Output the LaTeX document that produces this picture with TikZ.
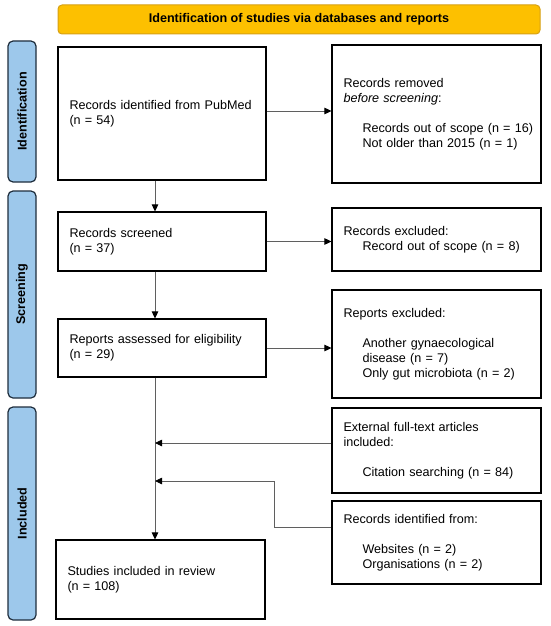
\documentclass[tikz,border=0pt]{standalone}
\usepackage{fontspec}
\setmainfont{Liberation Sans}
\usetikzlibrary{arrows.meta,calc}
\definecolor{hdrfill}{RGB}{253,192,0}
\definecolor{hdrdraw}{RGB}{214,160,20}
\definecolor{barfill}{RGB}{157,200,235}
\definecolor{bardraw}{RGB}{30,45,60}
\definecolor{conncol}{RGB}{95,95,95}
\tikzset{
  txt/.style={font=\fontsize{12.6}{15}\selectfont},
  box/.style={txt, draw=black, line width=1.1pt, fill=white, align=left,
    inner xsep=11.5pt, inner ysep=0pt, anchor=center},
  hdr/.style={draw=hdrdraw, fill=hdrfill, line width=1pt, rounded corners=4pt,
    minimum width=482pt, minimum height=29pt, inner sep=0pt,
    font=\fontsize{12.6}{15}\selectfont\bfseries},
  bar/.style={draw=bardraw, fill=barfill, line width=1.2pt, rounded corners=5pt,
    minimum width=28pt, inner sep=0pt},
  barlab/.style={rotate=90, font=\fontsize{12.6}{15}\selectfont\bfseries},
  conn/.style={draw=conncol, line width=0.8pt,
    -{Triangle[length=7pt,width=6.5pt,color=black]}}
}
\begin{document}
\begin{tikzpicture}[x=1pt,y=-1pt]
\useasboundingbox (0,0) rectangle (550,626);
% header
\node[hdr] (hdr) at (299,19.5) {Identification of studies via databases and reports};
% side bars
\node[bar, minimum height=141pt] (bid) at (22,111.5) {};
\node[barlab] (lid) at (bid) {Identification};
\node[bar, minimum height=207pt] (bsc) at (22,294.5) {};
\node[barlab] (lsc) at (bsc) {Screening};
\node[bar, minimum height=213pt] (bin) at (22,513.5) {};
\node[barlab] (lin) at (bin) {Included};
% left column
\node[box, text width=185pt, minimum height=133pt] (A) at (162,113.5)
  {Records identified from PubMed\\(n = 54)};
\node[box, text width=185pt, minimum height=59pt] (C) at (162,241.5)
  {Records screened\\(n = 37)};
\node[box, text width=185pt, minimum height=58pt] (E) at (162,348)
  {Reports assessed for eligibility\\(n = 29)};
\node[box, text width=186pt, minimum height=79pt] (G) at (160.5,579.5)
  {Studies included in review\\(n = 108)};
% right column
\node[box, text width=186pt, minimum height=138pt] (B) at (436.5,114)
  {Records removed\\\textit{before screening}:\\[15pt]
   \hspace*{19pt}\mbox{Records out of scope (n = 16)}\\
   \hspace*{19pt}\mbox{Not older than 2015 (n = 1)}\\[10pt]};
\node[box, text width=186pt, minimum height=63pt] (D) at (436.5,239.5)
  {Records excluded:\\
   \hspace*{19pt}\mbox{Record out of scope (n = 8)}};
\node[box, text width=186pt, minimum height=108pt] (F) at (436.5,344)
  {Reports excluded:\\[15pt]
   \hspace*{19pt}Another gynaecological\\
   \hspace*{19pt}disease (n = 7)\\
   \hspace*{19pt}\mbox{Only gut microbiota (n = 2)}\\[8pt]};
\node[box, text width=186pt, minimum height=85pt] (H) at (436.5,450.5)
  {External full-text articles\\included:\\[15pt]
   \hspace*{19pt}\mbox{Citation searching (n = 84)}};
\node[box, text width=186pt, minimum height=83pt] (I) at (436.5,542.5)
  {Records identified from:\\[15pt]
   \hspace*{19pt}Websites (n = 2)\\
   \hspace*{19pt}Organisations (n = 2)};
% connector helpers
\coordinate (v) at (155,0);
\coordinate (ay) at (0,111);
\coordinate (hin) at (155,443);
\coordinate (iin) at (155,481);
\coordinate (elb) at (274,527);
% connectors
\draw[conn] (A.south -| v) -- (C.north -| v);
\draw[conn] (C.south -| v) -- (E.north -| v);
\draw[conn] (E.south -| v) -- (G.north -| v);
\draw[conn] (A.east |- ay) -- (B.west |- ay);
\draw[conn] (C.east) -- (C.east -| D.west);
\draw[conn] (E.east) -- (E.east -| F.west);
\draw[conn] (H.west |- hin) -- (hin);
\draw[conn] (I.west |- elb) -- (elb) |- (iin);
\end{tikzpicture}
\end{document}
